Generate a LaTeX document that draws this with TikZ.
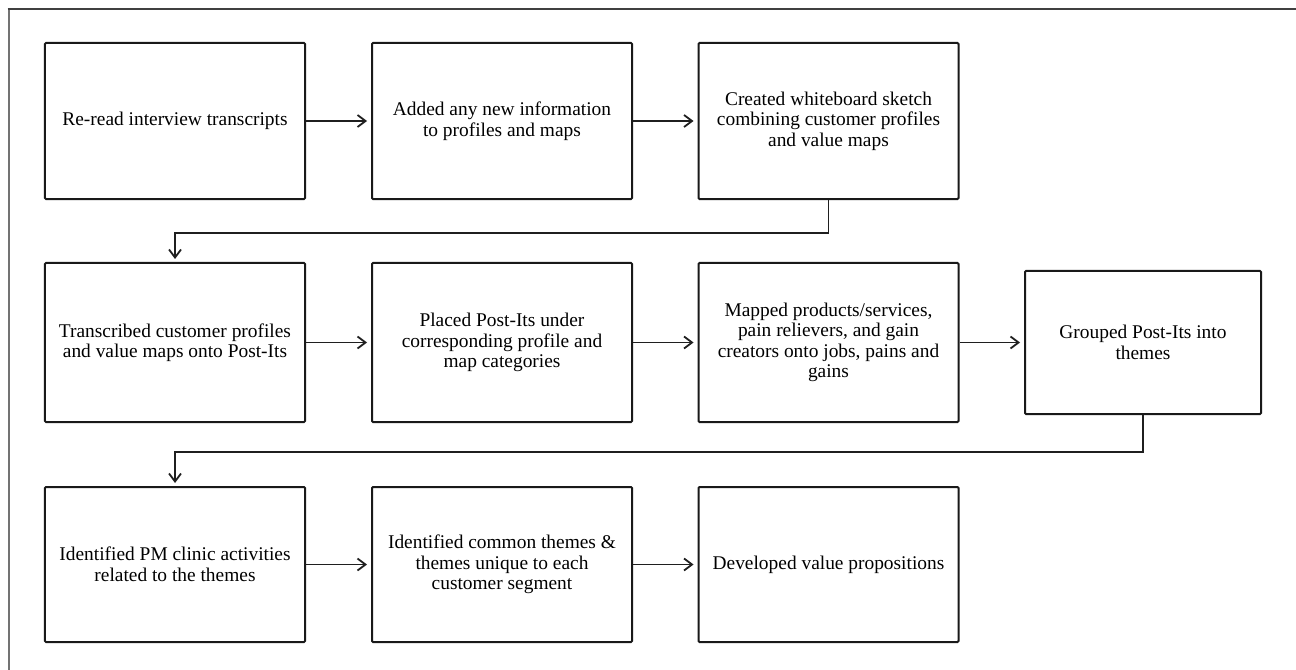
\documentclass[tikz,border=0pt]{standalone}
\usepackage{fontspec}
\setmainfont{Liberation Serif}
\usetikzlibrary{arrows.meta}
\begin{document}
\begin{tikzpicture}[x=1bp,y=-1bp,
  box/.style={draw=black!90, line width=2bp, rounded corners=1bp,
    minimum width=260bp, minimum height=156bp, align=center, inner sep=2bp,
    font=\fontsize{19.4bp}{20.5bp}\selectfont},
  conn/.style={draw=black!88, line width=1.8bp,
    -{Straight Barb[length=8bp,width=12bp,line width=1.8bp]}, shorten >=4bp}]
\useasboundingbox (0,0) rectangle (1296,670);
\fill[white] (0,0) rectangle (1296,670);
\draw[line width=2bp, black!55] (8.5,670) -- (8.5,9.5);
\draw[line width=2bp, black!75] (7.5,9.5) -- (1296,9.5);

% row 1
\node[box] (b1) at (175,121) {Re-read interview transcripts};
\node[box] (b2) at (502,121) {Added any new information\\to profiles and maps};
\node[box] (b3) at (828.5,121) {Created whiteboard sketch\\combining customer profiles\\and value maps};

% row 2
\node[box, minimum height=159bp] (b4) at (175,342.5) {Transcribed customer profiles\\and value maps onto Post-Its};
\node[box, minimum height=159bp] (b5) at (502,342.5) {Placed Post-Its under\\corresponding profile and\\map categories};
\node[box, minimum height=159bp] (b6) at (828.5,342.5) {Mapped products/services,\\pain relievers, and gain\\creators onto jobs, pains and\\gains};
\node[box, minimum width=236bp, minimum height=143bp] (b7) at (1143,342.5) {Grouped Post-Its into\\themes};

% row 3
\node[box, minimum height=155bp] (b8) at (175,564.5) {Identified PM clinic activities\\related to the themes};
\node[box, minimum height=155bp] (b9) at (502,564.5) {Identified common themes \&\\themes unique to each\\customer segment};
\node[box, minimum height=155bp] (b10) at (828.5,564.5) {Developed value propositions};

% connectors
\draw[conn] (b1) -- (b2);
\draw[conn] (b2) -- (b3);
\draw[conn, shorten >=3bp] (b3.south) -- ++(0,33) -| (b4.north);
\draw[conn] (b4) -- (b5);
\draw[conn] (b5) -- (b6);
\draw[conn] (b6) -- (b7);
\draw[conn, shorten >=3bp] (b7.south) -- ++(0,37) -| (b8.north);
\draw[conn] (b8) -- (b9);
\draw[conn] (b9) -- (b10);
\end{tikzpicture}
\end{document}
